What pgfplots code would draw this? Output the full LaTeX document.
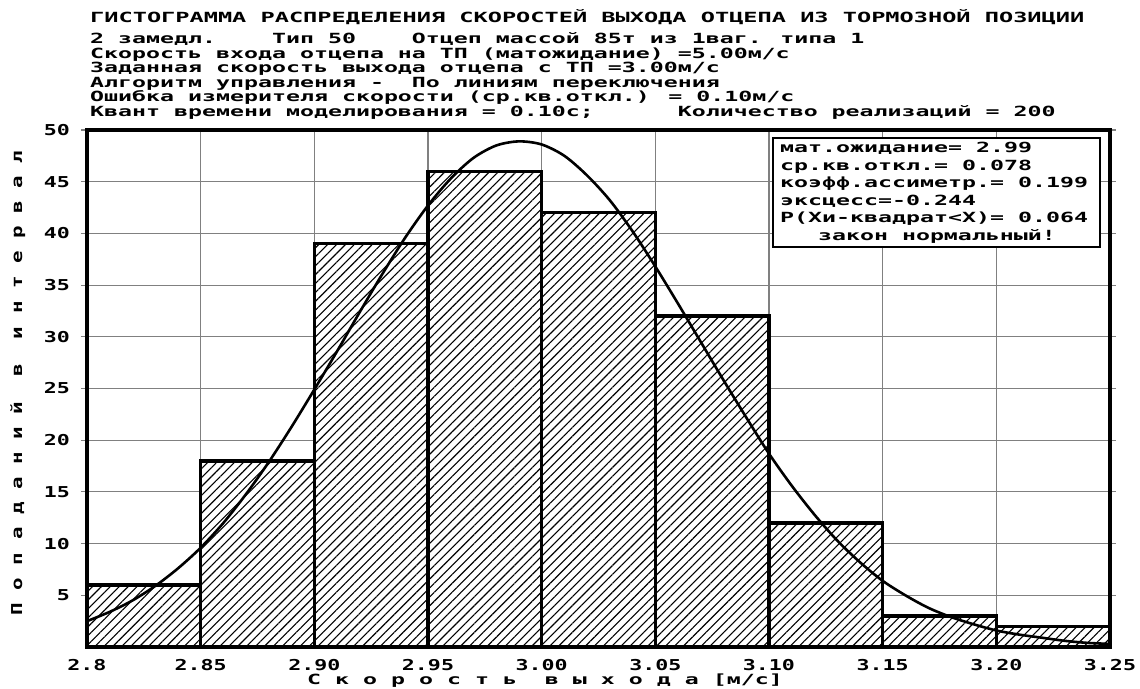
\documentclass[border=0pt]{standalone}
\usepackage{pgfplots}
\pgfplotsset{compat=1.18}
\usepackage{fontspec}
\usetikzlibrary{patterns.meta}
\newfontfamily\dos{DejaVu Sans Mono Bold}
\newcommand\TT[1]{\scalebox{1.685}[1]{\dos\fontsize{14}{16}\selectfont #1}}
\newcommand\T[1]{\scalebox{1.66}[1]{\dos\fontsize{14}{16}\selectfont #1}}
\newcommand\TK[1]{\scalebox{1.44}[1]{\dos\fontsize{15}{17}\selectfont #1}}
\newcommand\TY[1]{\scalebox{1.39}[1]{\dos\fontsize{15}{17}\selectfont #1}}
\begin{document}
\begin{tikzpicture}
\useasboundingbox (0,0) rectangle (1140pt,-688pt);
% header
\node[anchor=base west, inner sep=0] at (90pt,-22pt) {\TT{ГИСТОГРАММА РАСПРЕДЕЛЕНИЯ СКОРОСТЕЙ ВЫХОДА ОТЦЕПА ИЗ ТОРМОЗНОЙ ПОЗИЦИИ}};
\node[anchor=base west, inner sep=0] at (90pt,-43.5pt) {\T{2 замедл.\ \ \ \ Тип 50\ \ \ \ Отцеп массой 85т из 1ваг. типа 1}};
\node[anchor=base west, inner sep=0] at (90pt,-58pt) {\T{Скорость входа отцепа на ТП (матожидание) =5.00м/с}};
\node[anchor=base west, inner sep=0] at (90pt,-72.5pt) {\T{Заданная скорость выхода отцепа с ТП =3.00м/с}};
\node[anchor=base west, inner sep=0] at (90pt,-87pt) {\T{Алгоритм управления -\ \ По линиям переключения}};
\node[anchor=base west, inner sep=0] at (90pt,-101.5pt) {\T{Ошибка измерителя скорости (ср.кв.откл.) = 0.10м/с}};
\node[anchor=base west, inner sep=0] at (90pt,-116pt) {\T{Квант времени моделирования = 0.10с;\ \ \ \ \ \ Количество реализаций = 200}};
\begin{axis}[
  at={(87pt,-647pt)}, anchor=south west,
  scale only axis, width=1023pt, height=517pt,
  xmin=2.8, xmax=3.25, ymin=0, ymax=50,
  xtick={2.8,2.85,2.9,2.95,3.0,3.05,3.1,3.15,3.2,3.25},
  xticklabels={\TK{2.8},\TK{2.85},\TK{2.90},\TK{2.95},\TK{3.00},\TK{3.05},\TK{3.10},\TK{3.15},\TK{3.20},\TK{3.25}},
  ytick={5,10,15,20,25,30,35,40,45,50},
  yticklabels={\TK{5},\TK{10},\TK{15},\TK{20},\TK{25},\TK{30},\TK{35},\TK{40},\TK{45},\TK{50}},
  grid=major,
  grid style={black!50, line width=1.1pt},
  tick align=outside,
  major tick length=6pt,
  tick style={black!50, line width=1.1pt},
  xtick style={draw=none},
  axis line style={line width=4pt, black},
  xticklabel style={anchor=north, inner sep=0pt, yshift=-6.5pt},
  yticklabel style={anchor=east, inner sep=0pt, xshift=-11pt},
]
\addplot[ybar interval, fill=white, draw=none] coordinates {
(2.80,6) (2.85,18) (2.90,39) (2.95,46) (3.00,42) (3.05,32) (3.10,12) (3.15,3) (3.20,2) (3.25,2)};
\addplot[ybar interval, pattern={Lines[angle=45, distance=6.3pt, line width=1.1pt]}, draw=black, line width=3.5pt] coordinates {
(2.80,6) (2.85,18) (2.90,39) (2.95,46) (3.00,42) (3.05,32) (3.10,12) (3.15,3) (3.20,2) (3.25,2)};
\addplot[smooth, black, line width=2.6pt] coordinates {
(2.80,2.5) (2.81,3.4) (2.82,4.5) (2.83,5.9) (2.84,7.6) (2.85,9.6) (2.86,12.0) (2.87,14.8) (2.88,17.9) (2.89,21.3)
(2.90,24.9) (2.91,28.6) (2.92,32.4) (2.93,36.1) (2.94,39.6) (2.95,42.7) (2.96,45.3) (2.97,47.3) (2.98,48.5) (2.99,48.9)
(3.00,48.6) (3.01,47.5) (3.02,45.6) (3.03,43.2) (3.04,40.2) (3.05,36.8) (3.06,33.2) (3.07,29.5) (3.08,25.8) (3.09,22.2)
(3.10,18.7) (3.11,15.6) (3.12,12.8) (3.13,10.3) (3.14,8.2) (3.15,6.4) (3.16,5.0) (3.17,3.8) (3.18,2.9) (3.19,2.2)
(3.20,1.6) (3.21,1.2) (3.22,0.9) (3.23,0.6) (3.24,0.4) (3.25,0.3)};
\end{axis}
% stats box
\draw[line width=2pt, fill=white] (773pt,-138pt) rectangle (1100pt,-247pt);
\node[anchor=base west, inner sep=0] at (780pt,-152.5pt) {\T{мат.ожидание= 2.99}};
\node[anchor=base west, inner sep=0] at (780pt,-170pt) {\T{ср.кв.откл.= 0.078}};
\node[anchor=base west, inner sep=0] at (780pt,-187.5pt) {\T{коэфф.ассиметр.= 0.199}};
\node[anchor=base west, inner sep=0] at (780pt,-205pt) {\T{эксцесс=-0.244}};
\node[anchor=base west, inner sep=0] at (780pt,-222.5pt) {\T{P(Хи-квадрат<X)= 0.064}};
\node[anchor=base, inner sep=0] at (937pt,-240.5pt) {\T{закон нормальный!}};
% axis labels
\node[anchor=base, inner sep=0] at (545pt,-684.5pt) {\T{С к о р о с т ь\ \ в ы х о д а [м/с]}};
\node[rotate=90, anchor=base, inner sep=0] at (22pt,-383pt) {\TY{П о п а д а н и й\ \ в\ \ и н т е р в а л}};
\end{tikzpicture}
\end{document}
